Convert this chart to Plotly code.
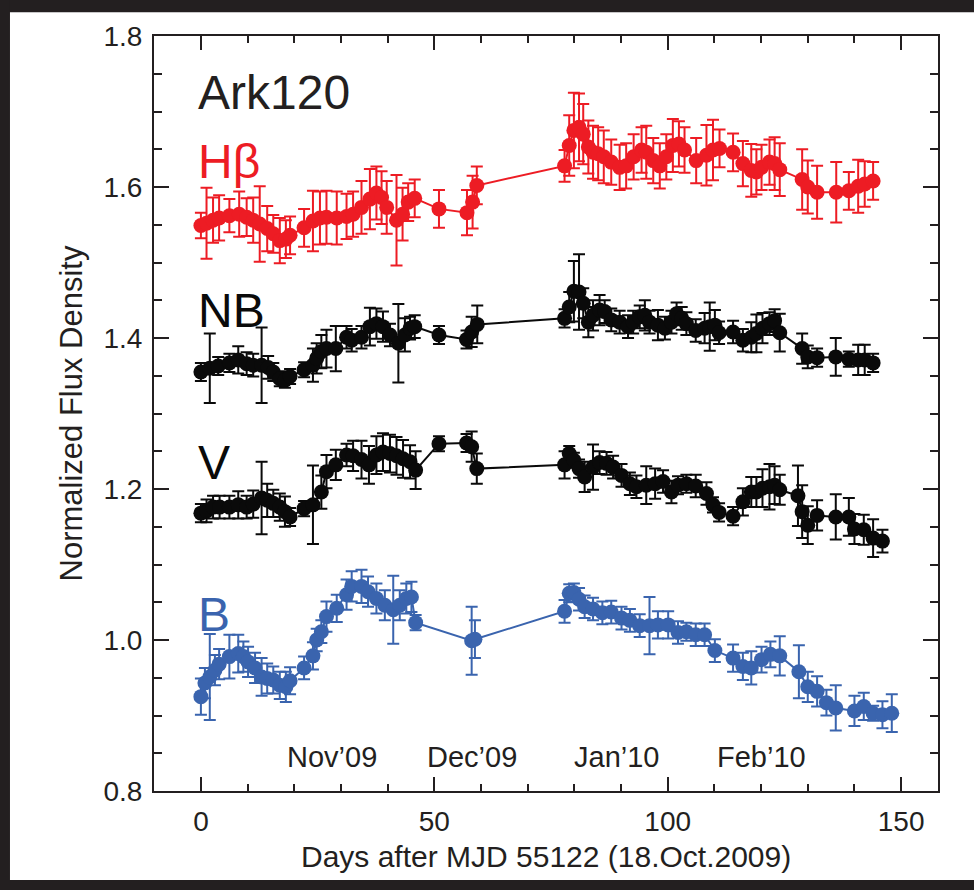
import plotly.graph_objects as go

# ---------------- data ----------------
hb_day = [0, 1.2, 2.6, 3.9, 6.1, 8.2, 9.8, 11.2, 12.6, 14.2, 15.5, 16.9, 18.2, 19.1,
          22.1, 24.0, 25.5, 26.9, 29.1, 31.2, 32.6, 34.4, 36.2, 37.6, 38.7, 39.8, 41.9,
          43.2, 44.4, 45.8, 51.0, 57.0, 58.2, 59.1,
          77.9, 78.9, 79.9, 81.0, 81.9, 83.0, 84.0, 85.1, 86.3, 87.9, 89.7, 91.1, 92.7,
          94.4, 95.4, 96.9, 98.3, 99.7, 101.1, 102.4, 103.6, 106.1, 108.3, 109.7, 111.1,
          114.0, 116.1, 117.9, 119.0, 120.1, 121.8, 122.9, 124.0, 128.8, 130.0, 132.0,
          136.1, 138.8, 140.8, 142.2, 144.0]
hb_val = [1.549, 1.552, 1.556, 1.559, 1.562, 1.564, 1.560, 1.556, 1.551, 1.545, 1.538, 1.529,
          1.531, 1.536, 1.546, 1.555, 1.559, 1.560, 1.559, 1.561, 1.564, 1.573, 1.584, 1.592,
          1.586, 1.573, 1.556, 1.564, 1.580, 1.585, 1.571, 1.566, 1.580, 1.602,
          1.628, 1.655, 1.675, 1.679, 1.670, 1.653, 1.646, 1.644, 1.640, 1.633, 1.626, 1.628,
          1.640, 1.649, 1.646, 1.635, 1.628, 1.640, 1.655, 1.657, 1.649, 1.635, 1.642, 1.649,
          1.651, 1.646, 1.631, 1.622, 1.620, 1.626, 1.633, 1.631, 1.623, 1.610, 1.600, 1.593,
          1.593, 1.595, 1.601, 1.604, 1.608]
hb_err = [0.017, 0.047, 0.030, 0.030, 0.022, 0.030, 0.025, 0.030, 0.050, 0.030, 0.025, 0.030,
          0.025, 0.025, 0.025, 0.040, 0.035, 0.035, 0.035, 0.030, 0.030, 0.035, 0.040, 0.035,
          0.035, 0.035, 0.060, 0.035, 0.025, 0.025, 0.025, 0.030, 0.035, 0.025,
          0.021, 0.040, 0.050, 0.045, 0.040, 0.035, 0.035, 0.035, 0.035, 0.030, 0.030, 0.030,
          0.030, 0.030, 0.035, 0.030, 0.030, 0.030, 0.035, 0.030, 0.030, 0.030, 0.040, 0.040,
          0.025, 0.025, 0.030, 0.035, 0.030, 0.030, 0.030, 0.035, 0.035, 0.040, 0.035, 0.035,
          0.040, 0.025, 0.035, 0.030, 0.025]

nb_day = [0, 1.9, 3.7, 6.1, 8.0, 9.8, 11.2, 13.0, 14.4, 15.5, 16.9, 18.0, 19.1, 22.1, 24.0,
          24.8, 25.8, 26.9, 28.9, 31.2, 32.3, 34.4, 36.2, 37.6, 39.0, 40.5, 42.3, 43.7,
          44.8, 45.8, 51.0, 56.9, 58.0, 59.2,
          77.9, 78.9, 79.9, 81.0, 81.9, 83.0, 84.0, 85.4, 86.5, 87.9, 89.7, 91.5, 92.6, 94.0,
          95.1, 96.1, 97.9, 99.4, 100.8, 101.9, 103.0, 104.0, 106.0, 107.9, 109.0, 110.1,
          111.0, 114.0, 116.1, 117.9, 119.0, 120.3, 121.8, 122.9, 124.0, 128.8, 130.0, 132.0,
          136.0, 138.8, 140.8, 142.2, 144.0]
nb_val = [1.355, 1.360, 1.363, 1.367, 1.371, 1.366, 1.364, 1.364, 1.361, 1.355, 1.346, 1.344,
          1.349, 1.358, 1.364, 1.373, 1.382, 1.386, 1.386, 1.401, 1.397, 1.401, 1.415, 1.419,
          1.415, 1.404, 1.393, 1.404, 1.413, 1.415, 1.404, 1.398, 1.408, 1.418,
          1.426, 1.441, 1.462, 1.461, 1.446, 1.421, 1.430, 1.437, 1.435, 1.424, 1.421, 1.415,
          1.421, 1.428, 1.430, 1.421, 1.417, 1.413, 1.421, 1.432, 1.426, 1.419, 1.410, 1.413,
          1.415, 1.417, 1.407, 1.408, 1.397, 1.401, 1.406, 1.413, 1.419, 1.423, 1.407, 1.386,
          1.375, 1.374, 1.375, 1.372, 1.371, 1.371, 1.367]
nb_err = [0.012, 0.046, 0.012, 0.012, 0.018, 0.015, 0.015, 0.050, 0.015, 0.012, 0.010, 0.010,
          0.010, 0.010, 0.022, 0.020, 0.022, 0.025, 0.030, 0.015, 0.015, 0.015, 0.025, 0.020,
          0.020, 0.015, 0.052, 0.022, 0.015, 0.015, 0.012, 0.012, 0.020, 0.025,
          0.012, 0.020, 0.040, 0.050, 0.020, 0.020, 0.020, 0.020, 0.015, 0.015, 0.015, 0.015,
          0.015, 0.015, 0.020, 0.015, 0.020, 0.015, 0.015, 0.015, 0.015, 0.015, 0.015, 0.020,
          0.032, 0.020, 0.015, 0.015, 0.015, 0.020, 0.025, 0.020, 0.015, 0.015, 0.025, 0.020,
          0.015, 0.012, 0.025, 0.010, 0.020, 0.020, 0.012]

v_day = [0, 1.2, 2.6, 4.0, 6.1, 8.0, 9.8, 11.2, 13.0, 14.2, 15.5, 16.9, 18.0, 19.1, 22.1,
         24.0, 25.8, 26.9, 28.9, 31.2, 32.6, 34.4, 36.0, 37.6, 39.0, 40.5, 41.9, 43.3, 44.8,
         46.0, 51.0, 56.9, 58.0, 59.1,
         77.9, 78.9, 79.9, 81.0, 82.2, 84.0, 85.4, 86.9, 88.3, 90.1, 91.9, 93.3, 95.4, 97.3,
         99.0, 100.8, 102.2, 104.0, 106.0, 108.3, 109.7, 111.0, 114.0, 116.1, 117.9, 119.0,
         120.3, 121.8, 122.9, 124.0, 127.9, 128.8, 130.0, 132.0, 136.0, 138.8, 140.0, 142.0,
         144.0, 146.0]
v_val = [1.168, 1.171, 1.176, 1.176, 1.176, 1.179, 1.176, 1.180, 1.188, 1.185, 1.181, 1.176,
         1.170, 1.163, 1.174, 1.179, 1.196, 1.223, 1.232, 1.245, 1.244, 1.239, 1.232, 1.245,
         1.249, 1.247, 1.244, 1.240, 1.236, 1.225, 1.260, 1.261, 1.256, 1.227,
         1.232, 1.247, 1.238, 1.227, 1.216, 1.229, 1.235, 1.234, 1.229, 1.218, 1.207, 1.203,
         1.205, 1.207, 1.210, 1.196, 1.205, 1.207, 1.204, 1.194, 1.179, 1.169, 1.164, 1.183,
         1.196, 1.196, 1.201, 1.203, 1.205, 1.199, 1.191, 1.170, 1.152, 1.165, 1.163, 1.163,
         1.147, 1.146, 1.135, 1.131]
v_err = [0.012, 0.015, 0.015, 0.015, 0.015, 0.018, 0.015, 0.018, 0.048, 0.022, 0.018, 0.018,
         0.020, 0.012, 0.010, 0.052, 0.022, 0.022, 0.020, 0.015, 0.020, 0.025, 0.025, 0.025,
         0.025, 0.025, 0.025, 0.025, 0.022, 0.025, 0.010, 0.012, 0.020, 0.020,
         0.018, 0.010, 0.010, 0.012, 0.020, 0.030, 0.015, 0.015, 0.015, 0.015, 0.015, 0.015,
         0.025, 0.020, 0.015, 0.015, 0.012, 0.012, 0.015, 0.015, 0.010, 0.012, 0.012, 0.018,
         0.020, 0.020, 0.025, 0.030, 0.025, 0.020, 0.040, 0.035, 0.025, 0.020, 0.030, 0.025,
         0.020, 0.020, 0.025, 0.015]

b_day = [0, 0.86, 1.9, 3.0, 3.9, 6.1, 8.0, 9.1, 10.1, 11.6, 13.0, 14.2, 15.5, 16.9, 18.2,
         19.1, 22.1, 24.0, 24.8, 25.8, 26.9, 29.1, 31.2, 32.3, 34.4, 35.8, 37.6, 39.4, 41.2,
         42.6, 44.0, 45.1, 46.0, 58.0, 58.7,
         77.9, 78.9, 79.9, 81.0, 82.2, 84.0, 86.0, 87.9, 90.1, 91.9, 94.0, 96.1, 97.9, 100.1,
         102.2, 104.0, 106.0, 107.9, 110.1, 114.0, 116.1, 117.9, 120.1, 122.0, 124.0, 128.1,
         130.0, 132.0, 134.0, 136.0, 140.0, 142.0, 144.0, 146.0, 148.0]
b_val = [0.925, 0.943, 0.951, 0.960, 0.968, 0.978, 0.982, 0.978, 0.971, 0.963, 0.951, 0.949,
         0.947, 0.940, 0.938, 0.946, 0.963, 0.979, 1.000, 1.011, 1.031, 1.042, 1.060, 1.071,
         1.071, 1.064, 1.055, 1.046, 1.040, 1.046, 1.055, 1.057, 1.023, 0.999, 1.001,
         1.038, 1.062, 1.063, 1.054, 1.044, 1.041, 1.036, 1.037, 1.029, 1.026, 1.019, 1.019,
         1.020, 1.020, 1.010, 1.011, 1.007, 1.007, 0.986, 0.976, 0.965, 0.963, 0.974, 0.981,
         0.979, 0.958, 0.938, 0.932, 0.917, 0.910, 0.906, 0.912, 0.903, 0.901, 0.903]
b_err = [0.024, 0.020, 0.057, 0.020, 0.020, 0.029, 0.025, 0.020, 0.020, 0.020, 0.025, 0.020,
         0.018, 0.018, 0.020, 0.018, 0.015, 0.018, 0.015, 0.015, 0.020, 0.018, 0.020, 0.020,
         0.022, 0.020, 0.020, 0.020, 0.045, 0.020, 0.020, 0.020, 0.010, 0.045, 0.025,
         0.015, 0.012, 0.012, 0.015, 0.015, 0.015, 0.015, 0.015, 0.015, 0.015, 0.015, 0.038,
         0.018, 0.018, 0.015, 0.012, 0.015, 0.015, 0.015, 0.018, 0.018, 0.022, 0.017, 0.017,
         0.026, 0.035, 0.020, 0.020, 0.017, 0.030, 0.020, 0.018, 0.010, 0.018, 0.025]

month_labels = ["Nov\u201909", "Dec\u201909", "Jan\u201910", "Feb\u201910"]
month_days = [28, 58, 89, 120]

RED = "#ED1C24"
BLUE = "#3A64AE"
BLACK = "#0a0a0a"
INK = "#231F20"
FONT = "Liberation Sans, Arial, sans-serif"

fig = go.Figure()


def add_series(x, y, e, color):
    fig.add_trace(go.Scatter(
        x=x, y=y, mode="lines+markers",
        line=dict(color=color, width=2),
        marker=dict(color=color, size=15, symbol="circle"),
        error_y=dict(type="data", array=e, visible=True, color=color,
                     thickness=2, width=6),
        showlegend=False, hoverinfo="x+y"))


add_series(hb_day, hb_val, hb_err, RED)
add_series(nb_day, nb_val, nb_err, BLACK)
add_series(v_day, v_val, v_err, BLACK)
add_series(b_day, b_val, b_err, BLUE)

annotations = []
# series labels
for txt, yv, col in [("Ark120", 1.725, INK), ("H\u03b2", 1.634, RED),
                     ("NB", 1.436, BLACK), ("V", 1.235, BLACK), ("B", 1.034, BLUE)]:
    annotations.append(dict(x=-1.0, y=yv, xref="x", yref="y", text=txt,
                            showarrow=False, xanchor="left", yanchor="middle",
                            font=dict(family=FONT, size=48, color=col)))
# month labels
for txt, d in zip(month_labels, month_days):
    annotations.append(dict(x=d, y=0.845, xref="x", yref="y", text=txt,
                            showarrow=False, xanchor="center", yanchor="middle",
                            font=dict(family=FONT, size=29, color=INK)))
# axis titles
annotations.append(dict(x=0.5, y=-0.087, xref="paper", yref="paper",
                        text="Days after MJD 55122 (18.Oct.2009)", showarrow=False,
                        xanchor="center", yanchor="middle",
                        font=dict(family=FONT, size=30, color=INK)))
annotations.append(dict(x=-0.1046, y=0.5, xref="paper", yref="paper",
                        text="Normalized Flux Density", showarrow=False, textangle=-90,
                        xanchor="center", yanchor="middle",
                        font=dict(family=FONT, size=31, color=INK)))

# dark frame around the picture
shapes = [
    dict(type="rect", xref="paper", yref="paper", x0=-0.20, x1=1.06, y0=1.0313, y1=1.06,
         fillcolor=INK, line=dict(width=0), layer="above"),
    dict(type="rect", xref="paper", yref="paper", x0=-0.20, x1=-0.1837, y0=-0.14, y1=1.06,
         fillcolor=INK, line=dict(width=0), layer="above"),
    dict(type="rect", xref="paper", yref="paper", x0=-0.20, x1=1.06, y0=-0.14, y1=-0.1178,
         fillcolor=INK, line=dict(width=0), layer="above"),
]

axis_common = dict(showline=True, linecolor=INK, linewidth=2, mirror="ticks",
                   ticks="inside", tickcolor=INK, tickwidth=2, showgrid=False,
                   zeroline=False, tickfont=dict(family=FONT, size=28, color=INK))

fig.update_layout(
    width=974, height=890,
    margin=dict(l=154, r=36, t=36, b=99),
    paper_bgcolor="white", plot_bgcolor="white",
    xaxis=dict(range=[-10.05, 157.9], tickmode="array", tickvals=[0, 50, 100, 150],
               ticklen=14, minor=dict(dtick=10, tick0=0, ticks="inside", ticklen=7,
                                      tickcolor=INK, tickwidth=2),
               ticklabelstandoff=4, **axis_common),
    yaxis=dict(range=[0.8, 1.8], dtick=0.2, tick0=0.8, tickformat=".1f", ticklen=15,
               minor=dict(dtick=0.05, tick0=0.8, ticks="inside", ticklen=8,
                          tickcolor=INK, tickwidth=2),
               ticklabelstandoff=4, **axis_common),
    annotations=annotations,
    shapes=shapes,
)

fig.write_html("out.html")
